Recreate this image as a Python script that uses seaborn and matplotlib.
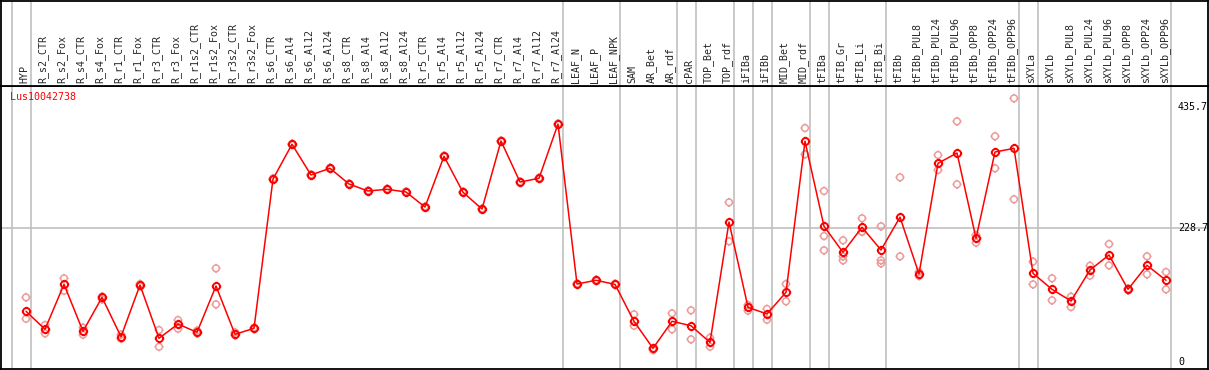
import numpy as np
import pandas as pd
import seaborn as sns
import matplotlib.pyplot as plt
from matplotlib.path import Path

# sample names (x axis, rotated labels on top)
samples = ["HYP", "R_s2_CTR", "R_s2_Fox", "R_s4_CTR", "R_s4_Fox", "R_r1_CTR", "R_r1_Fox",
           "R_r3_CTR", "R_r3_Fox", "R_r1s2_CTR", "R_r1s2_Fox", "R_r3s2_CTR", "R_r3s2_Fox",
           "R_s6_CTR", "R_s6_Al4", "R_s6_Al12", "R_s6_Al24", "R_s8_CTR", "R_s8_Al4",
           "R_s8_Al12", "R_s8_Al24", "R_r5_CTR", "R_r5_Al4", "R_r5_Al12", "R_r5_Al24",
           "R_r7_CTR", "R_r7_Al4", "R_r7_Al12", "R_r7_Al24", "LEAF_N", "LEAF_P", "LEAF_NPK",
           "SAM", "AR_Bet", "AR_rdf", "cPAR", "TOP_Bet", "TOP_rdf", "iFIBa", "iFIBb",
           "MID_Bet", "MID_rdf", "tFIBa", "tFIB_Gr", "tFIB_Li", "tFIB_Bi", "tFIBb",
           "tFIBb_PUL8", "tFIBb_PUL24", "tFIBb_PUL96", "tFIBb_OPP8", "tFIBb_OPP24",
           "tFIBb_OPP96", "sXYLa", "sXYLb", "sXYLb_PUL8", "sXYLb_PUL24", "sXYLb_PUL96",
           "sXYLb_OPP8", "sXYLb_OPP24", "sXYLb_OPP96"]

# mean expression per sample
means = [87.1, 56.4, 133.0, 53.0, 110.9, 43.8, 131.9, 41.1, 65.4, 51.3, 130.2, 47.9, 58.1,
         312.4, 371.6, 319.3, 330.7, 303.9, 292.0, 294.9, 290.3, 264.7, 351.1, 289.8, 261.3,
         377.2, 307.3, 313.6, 406.1, 133.6, 139.9, 133.0,
         70.0, 24.0, 70.0, 62.5, 34.2, 239.2, 93.9, 82.5, 119.4, 376.7,
         231.9, 187.6, 230.2, 191.5, 247.4,
         150.6, 339.2, 356.7, 211.4, 358.4, 364.7,
         151.8, 124.5, 104.6, 157.4, 183.0, 124.5, 165.4, 139.9]

# individual replicates per sample
replicates = [
    [110.9, 74.4], [63.7, 49.6], [143.3, 122.1], [59.1, 47.2], [111.9, 107.5],
    [47.2, 40.4], [133.6, 130.2], [55.2, 26.7], [72.2, 57.4], [54.0, 49.6],
    [160.3, 99.0], [51.3, 46.2], [59.1, 56.9],
    [313.5, 311.3], [372.5, 370.7], [320.2, 318.4], [331.6, 329.8], [304.8, 303.0],
    [292.9, 291.1], [295.8, 294.0], [291.2, 289.4], [265.6, 263.8], [352.0, 350.2],
    [290.7, 288.9], [262.2, 260.4], [378.1, 376.3], [308.2, 306.4], [314.5, 312.7],
    [407.0, 405.2], [134.5, 132.7], [140.8, 139.0], [133.9, 132.1],
    [81.9, 62.5], [24.0, 21.1], [83.6, 56.4], [88.8, 39.4], [42.1, 26.7],
    [272.7, 206.3], [97.8, 88.1], [91.0, 72.7], [133.6, 104.1], [399.3, 354.5],
    [292.0, 215.3, 191.0], [208.0, 180.7, 173.9], [245.5, 222.7, 222.4],
    [231.9, 173.9, 168.8], [315.3, 180.7],
    [154.0, 147.2], [353.3, 327.8], [410.7, 303.4], [217.0, 203.9], [385.2, 330.7],
    [449.9, 277.9],
    [171.6, 133.0], [143.3, 105.8], [111.9, 94.4], [164.7, 147.7], [201.7, 165.4],
    [125.6, 122.8], [180.7, 150.1], [154.0, 124.5],
]

# separators are drawn after these samples
group_ends = ["HYP", "R_r7_Al24", "LEAF_NPK", "AR_rdf", "cPAR", "TOP_rdf", "iFIBa",
              "iFIBb", "MID_rdf", "tFIBa", "tFIB_Bi", "tFIBb_OPP96", "sXYLa", "sXYLb_OPP96"]

scale_ticks = [435.7, 228.7, 0]
gene = "Lus10042738"

df = pd.DataFrame({"pos": np.arange(len(samples)), "sample": samples, "value": means})
rep_df = pd.DataFrame([(i, v) for i, reps in enumerate(replicates) for v in reps],
                      columns=["pos", "value"])

sns.set_style("white")
plt.rcParams["font.family"] = ["DejaVu Sans Mono", "DejaVu Sans"]

# circle marker with four little ticks
circ = Path.unit_circle()
ticks = Path([(1, 0), (1.35, 0), (-1, 0), (-1.35, 0), (0, 1), (0, 1.35), (0, -1), (0, -1.35)],
             [Path.MOVETO, Path.LINETO] * 4)
tick_marker = Path.make_compound_path(circ, ticks)

W, H = 1209, 370
fig = plt.figure(figsize=(W / 100, H / 100), dpi=100)
x0, x1 = 1, 1208
y_split = 85.5
ax = fig.add_axes([x0 / W, 1 / H, (x1 - x0) / W, (369 - y_split) / H])
ax_top = fig.add_axes([x0 / W, (H - y_split) / H, (x1 - x0) / W, (y_split - 0.5) / H])

# pixel mapping: x = 26 + 19 * i
xlim = ((x0 - 26) / 19, (x1 - 26) / 19)
ylim = (-11.2, 471.7)

grid_c = "#c0c0c0"
breaks = [-0.75] + [samples.index(s) + 0.25 for s in group_ends]
for a in (ax, ax_top):
    for b in breaks:
        a.axvline(b, color=grid_c, lw=1.2, zorder=0)
    a.set_xlim(*xlim)
    a.set_xticks([])
    a.set_yticks([])
    for sp in a.spines.values():
        sp.set_color("black")
        sp.set_linewidth(1.3)
ax.axhline(scale_ticks[1], color=grid_c, lw=1.2, zorder=0)

sns.scatterplot(data=rep_df, x="pos", y="value", ax=ax, marker=tick_marker, s=42,
                facecolor="none", edgecolor="#ec9a9a", linewidth=1.1, zorder=2)
sns.lineplot(data=df, x="pos", y="value", ax=ax, color="red", lw=1.1, marker=tick_marker,
             markersize=6.8, markerfacecolor="none", markeredgecolor="red",
             markeredgewidth=1.4, zorder=3)
ax.set_ylim(*ylim)
ax.set_xlim(*xlim)
ax.set_xlabel("")
ax.set_ylabel("")

for v in scale_ticks:
    ax.text((1178 - 26) / 19, v, f"{v:g}", ha="left", va="center", fontsize=7.2, color="black")
ax.text(9 / (x1 - x0), 0.958, gene, transform=ax.transAxes, ha="left", va="center",
        fontsize=7.2, color="red")

ax_top.set_ylim(0, 1)
for i, s in enumerate(samples):
    ax_top.text(i - 0.1, 0.03, s, rotation=90, ha="center", va="bottom", fontsize=7.2)

fig.savefig("out.png", dpi=100)
